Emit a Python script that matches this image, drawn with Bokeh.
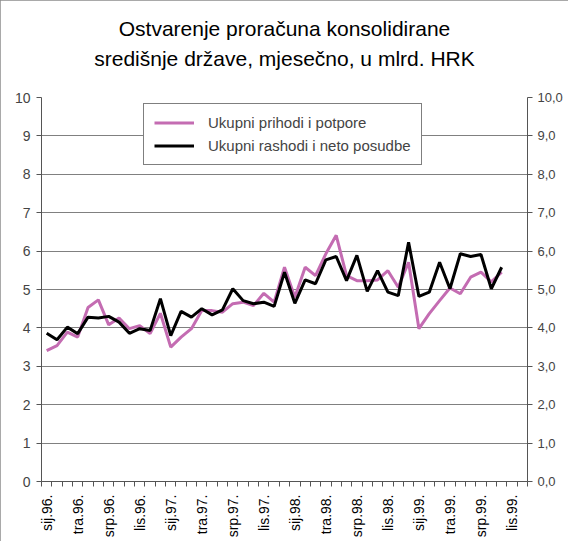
from bokeh.plotting import figure
from bokeh.models import (LinearAxis, FixedTicker, Legend, LegendItem,
                          ColumnDataSource, Range1d, Title)
from bokeh.embed import file_html
from bokeh.resources import INLINE

# ---- data -------------------------------------------------------------
months = [
    "sij.96.", "velj.96.", "ožu.96.", "tra.96.", "svi.96.", "lip.96.",
    "srp.96.", "kol.96.", "ruj.96.", "lis.96.", "stu.96.", "pro.96.",
    "sij.97.", "velj.97.", "ožu.97.", "tra.97.", "svi.97.", "lip.97.",
    "srp.97.", "kol.97.", "ruj.97.", "lis.97.", "stu.97.", "pro.97.",
    "sij.98.", "velj.98.", "ožu.98.", "tra.98.", "svi.98.", "lip.98.",
    "srp.98.", "kol.98.", "ruj.98.", "lis.98.", "stu.98.", "pro.98.",
    "sij.99.", "velj.99.", "ožu.99.", "tra.99.", "svi.99.", "lip.99.",
    "srp.99.", "kol.99.", "ruj.99.", "lis.99.", "stu.99.",
]
revenue = [
    3.41, 3.54, 3.89, 3.76, 4.53, 4.73, 4.08, 4.26, 3.98, 4.06, 3.85, 4.38,
    3.50, 3.76, 3.98, 4.45, 4.45, 4.41, 4.63, 4.67, 4.58, 4.90, 4.67, 5.58,
    4.80, 5.58, 5.36, 5.93, 6.41, 5.36, 5.23, 5.23, 5.25, 5.49, 5.06, 5.71,
    3.98, 4.37, 4.71, 5.04, 4.89, 5.32, 5.45, 5.20, 5.45,
]
expenditure = [
    3.86, 3.69, 4.02, 3.85, 4.28, 4.26, 4.30, 4.15, 3.86, 3.98, 3.93, 4.76,
    3.80, 4.43, 4.28, 4.50, 4.34, 4.47, 5.02, 4.71, 4.63, 4.67, 4.56, 5.45,
    4.64, 5.25, 5.15, 5.77, 5.86, 5.23, 5.89, 4.95, 5.49, 4.93, 4.84, 6.23,
    4.82, 4.93, 5.71, 5.02, 5.93, 5.86, 5.91, 5.02, 5.58,
]
series_names = ["Ukupni prihodi i potpore", "Ukupni rashodi i neto posudbe"]
y_ticks = [0, 1, 2, 3, 4, 5, 6, 7, 8, 9, 10]
label_every = 3
title_lines = ["Ostvarenje proračuna konsolidirane",
               "središnje države, mjesečno, u mlrd. HRK"]

# ---- figure -----------------------------------------------------------
FONT = "Liberation Sans"
PINK = "#C46CB2"
GRID = "#808080"
AXC = "#555555"

n = len(months)
p = figure(frame_width=486, frame_height=384, output_backend="svg",
           toolbar_location=None,
           x_range=Range1d(-0.5, n - 0.5), y_range=Range1d(0, 10),
           min_border_left=41, min_border_right=41, min_border_bottom=60,
           min_border_top=97)
p.outline_line_color = None
p.background_fill_color = "white"
p.border_fill_color = "white"
p.styles = {"outline": "1px solid #8c8c8c", "outline-offset": "-1px"}

src = ColumnDataSource(dict(x=list(range(len(revenue))),
                            rev=revenue, exp=expenditure))
r1 = p.line("x", "rev", source=src, line_color=PINK, line_width=3)
r2 = p.line("x", "exp", source=src, line_color="black", line_width=3)

# x axis
xa = p.xaxis[0]
major = list(range(0, n, label_every))
xa.ticker = FixedTicker(ticks=major, minor_ticks=[i - 0.5 for i in range(n + 1)])
xa.major_label_overrides = {i: months[i] for i in major}
xa.major_label_orientation = 3.14159265 / 2
xa.major_tick_out = 0
xa.major_tick_in = 0
xa.minor_tick_out = 5
xa.minor_tick_in = 0
xa.major_label_standoff = 8
xa.major_label_text_font = FONT
xa.major_label_text_font_size = "14px"
xa.major_label_text_color = "black"
xa.axis_line_color = AXC
xa.minor_tick_line_color = AXC

# left y axis
ya = p.yaxis[0]
ya.ticker = FixedTicker(ticks=y_ticks)
ya.major_tick_out = 5
ya.major_tick_in = 0
ya.minor_tick_out = 0
ya.major_label_standoff = 6
ya.major_label_text_font = FONT
ya.major_label_text_font_size = "14px"
ya.axis_line_color = AXC
ya.major_tick_line_color = AXC

# right y axis
ra = LinearAxis(ticker=FixedTicker(ticks=y_ticks))
ra.major_label_overrides = {t: f"{t},0" for t in y_ticks}
ra.major_tick_out = 5
ra.major_tick_in = 0
ra.minor_tick_out = 0
ra.major_label_standoff = 5
ra.major_label_text_font = FONT
ra.major_label_text_font_size = "13px"
ra.axis_line_color = AXC
ra.major_tick_line_color = AXC
p.add_layout(ra, "right")

p.xgrid.grid_line_color = None
p.ygrid.ticker = FixedTicker(ticks=y_ticks)
p.ygrid.grid_line_color = GRID
p.ygrid.grid_line_width = 1

# title line 2: label of an invisible axis above the frame (centred)
ta = LinearAxis(ticker=FixedTicker(ticks=[]), axis_label=title_lines[1])
ta.axis_line_color = None
ta.major_tick_out = 0
ta.major_tick_in = 0
ta.minor_tick_out = 0
ta.minor_tick_in = 0
ta.major_label_text_font_size = "0px"
ta.axis_label_standoff = 28
ta.axis_label_text_font = FONT
ta.axis_label_text_font_size = "21px"
ta.axis_label_text_font_style = "normal"
ta.axis_label_text_color = "black"
p.add_layout(ta, "above")

# title line 1
p.add_layout(Title(text=title_lines[0], align="center", text_font=FONT,
                   text_font_size="21px", text_font_style="normal",
                   text_color="black", standoff=8), "above")

legend = Legend(items=[LegendItem(label=series_names[0], renderers=[r1]),
                       LegendItem(label=series_names[1], renderers=[r2])],
                location=(102, 316))
legend.label_text_font = FONT
legend.label_text_font_size = "15px"
legend.border_line_color = "black"
legend.border_line_width = 1
legend.padding = 10
legend.spacing = 6
legend.glyph_width = 40
legend.glyph_height = 17
legend.label_height = 17
legend.label_standoff = 14
legend.margin = 0
legend.background_fill_alpha = 1
p.add_layout(legend, "center")

open("out.html", "w").write(file_html(p, INLINE))
